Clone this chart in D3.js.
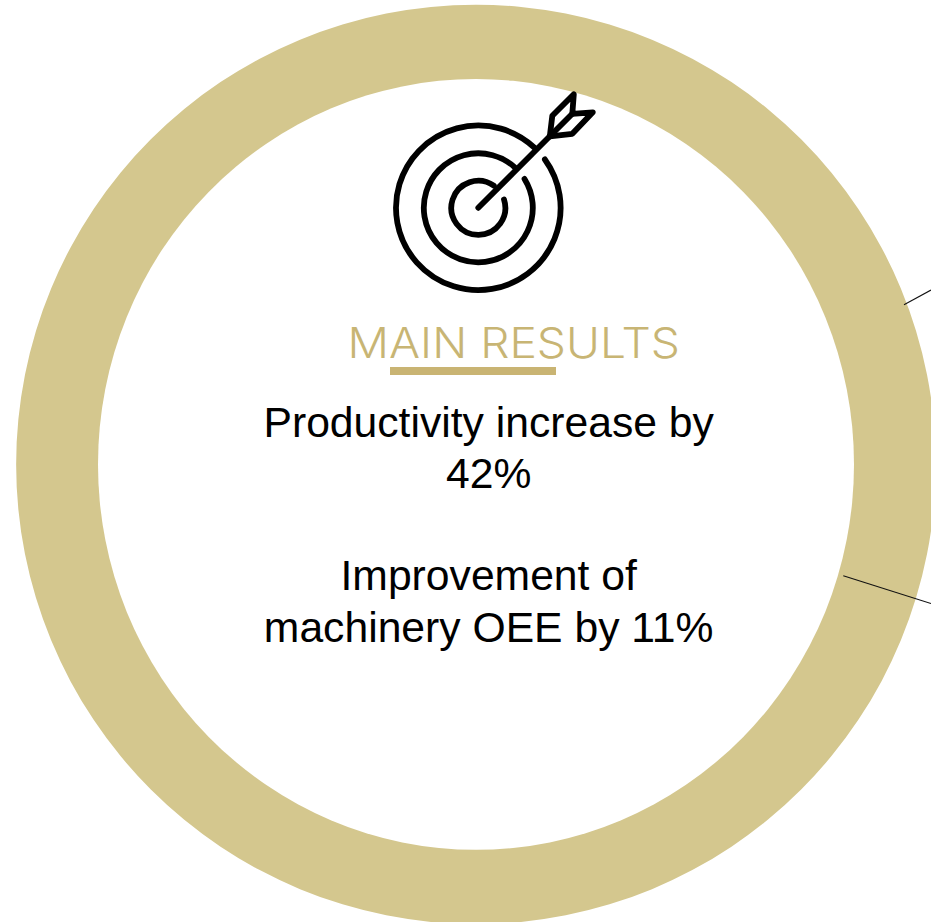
<!DOCTYPE html>
<html>
<head>
<meta charset="utf-8">
<title>Main results</title>
<script src="https://cdn.jsdelivr.net/npm/d3@7"></script>
<style>
	html, body { margin: 0; padding: 0; background: #fff; overflow: hidden; }
	svg { display: block; }
</style>
</head>
<body>
<div id="vis"></div>
<script>
// what the picture says
var ringValues = [100]
var titleText = 'MAIN RESULTS'
var resultLines = ['Productivity increase by', '42%', '', 'Improvement of', 'machinery OEE by 11%']

var width = 931
var height = 922
var ringColor = '#d4c78e'
var titleColor = '#c8b574'

var svg = d3.select('#vis').append('svg')
	.attr('width', width)
	.attr('height', height)

// little helper for string concat
function translate(x, y) {
	return 'translate(' + x + ',' + y + ')'
}

// the ring, the hole is a bit taller than wide in the original
function drawRing() {
	var cx = 476
	var cy = 464.4
	var ring = svg.append('g').attr('transform', translate(cx, cy))
	var pie = d3.pie().sort(null)
	var outer = d3.arc().innerRadius(0).outerRadius(459.7)
	var hole = d3.arc().innerRadius(0).outerRadius(385.4)

	ring.selectAll('path.slice')
		.data(pie(ringValues))
		.join('path')
		.attr('class', 'slice')
		.attr('fill', ringColor)
		.attr('d', outer)

	ring.append('path')
		.attr('transform', 'scale(' + (378 / 385.4) + ',1)')
		.attr('fill', '#fff')
		.attr('d', hole({ startAngle: 0, endAngle: 2 * Math.PI }))
}

// leader lines running off the right edge
function drawLeaders() {
	var leaders = [
		[[904, 304.7], [931, 290]],
		[[843.3, 575.7], [931, 603.5]]
	]
	svg.selectAll('line.leader')
		.data(leaders)
		.join('line')
		.attr('class', 'leader')
		.attr('x1', function(d) { return d[0][0] })
		.attr('y1', function(d) { return d[0][1] })
		.attr('x2', function(d) { return d[1][0] })
		.attr('y2', function(d) { return d[1][1] })
		.attr('stroke', '#111')
		.attr('stroke-width', 1.1)
}

// target and arrow icon
function drawIcon() {
	var icon = svg.append('g')
		.attr('transform', translate(478.3, 207.8))
		.attr('fill', 'none')
		.attr('stroke', '#000')
		.attr('stroke-width', 5.8)
		.attr('stroke-linecap', 'round')
		.attr('stroke-linejoin', 'round')

	var rad = Math.PI / 180
	var rings = [
		{ r: 82.3, from: 54, to: 403 },
		{ r: 54.5, from: 58, to: 402 },
		{ r: 27, from: 72, to: 395 }
	]
	rings.forEach(function(d) {
		var p = d3.path()
		p.arc(0, 0, d.r, (d.from - 90) * rad, (d.to - 90) * rad)
		icon.append('path').attr('d', p.toString())
	})

	var line = d3.line()
	// shaft
	icon.append('path').attr('d', line([[0, 0], [71.5, -71.5]]))
	// the two vanes
	icon.append('path').attr('d', line([[71.5, -71.5], [74, -92], [95.5, -113.5], [94, -94], [114.5, -95.5], [94, -74], [71.5, -71.5]]))
	icon.append('path').attr('d', line([[71.5, -71.5], [94, -94]]))
}

function drawText() {
	svg.append('text')
		.attr('x', 347.5)
		.attr('y', 358)
		.attr('font-family', 'Inter, "Open Sans", sans-serif')
		.attr('font-weight', 300)
		.attr('font-size', 42)
		.attr('textLength', 332.5)
		.attr('lengthAdjust', 'spacingAndGlyphs')
		.attr('fill', titleColor)
		.text(titleText)

	svg.append('rect')
		.attr('x', 390)
		.attr('y', 367)
		.attr('width', 166)
		.attr('height', 8)
		.attr('fill', '#c9b473')

	var baseline = d3.scaleLinear().domain([0, 1]).range([436.5, 487.8])
	svg.selectAll('text.result')
		.data(resultLines)
		.join('text')
		.attr('class', 'result')
		.attr('x', 488.7)
		.attr('y', function(d, i) { return baseline(i) })
		.attr('text-anchor', 'middle')
		.attr('font-family', '"Liberation Sans", Arial, sans-serif')
		.attr('font-size', 42.67)
		.attr('fill', '#000')
		.text(function(d) { return d })
}

function init() {
	drawRing()
	drawLeaders()
	drawIcon()
	drawText()
}

init()
</script>
</body>
</html>
